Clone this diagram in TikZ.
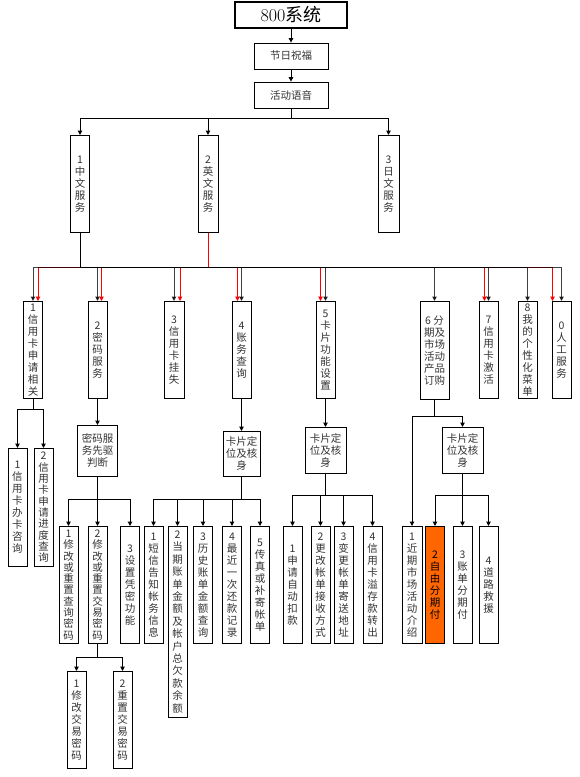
\documentclass[tikz,border=0pt]{standalone}
\usepackage{fontspec}
\newfontfamily\cjk{Noto Sans CJK SC}
\usetikzlibrary{arrows.meta}
\definecolor{fenqi}{RGB}{255,102,0}
% one character per line
\newcommand\vtext[1]{\vtextA#1\relax}
\def\vtextA#1{#1\vtextB}
\def\vtextB#1{\ifx#1\relax\else\\#1\expandafter\vtextB\fi}
\tikzset{
  box/.style={draw, line width=0.8pt, inner sep=0pt, align=center, text=black!80, font=\cjk\fontsize{10.5}{12}\selectfont},
  vbox/.style={box, anchor=north, minimum width=19pt},
  tight/.style={font=\cjk\fontsize{10.5}{11.3}\selectfont},
  loose/.style={font=\cjk\fontsize{10.5}{12.4}\selectfont},
  link/.style={line width=1pt, -{Triangle[length=4.5pt,width=4.5pt]}},
}
\begin{document}
\begin{tikzpicture}[x=1pt,y=1pt,yscale=-1,xscale=1]
    \useasboundingbox (0,0) rectangle (579,777);

    %Shape: Rectangle (top)
    \node[box, minimum width=112pt, minimum height=26pt, line width=1.2pt, text=black, font=\fontsize{18}{20}\selectfont] (title) at (291,15) {800{\cjk 系统}};
    \node[box, minimum width=74pt, minimum height=26pt] (jrzf) at (291,56) {节日祝福};
    \node[box, minimum width=74pt, minimum height=26pt] (hdyy) at (291,95) {活动语音};

    %Shape: Rectangle (languages)
    \node[vbox, minimum height=97pt] (zw) at (80,135) {\vtext{1中文服务}};
    \node[vbox, minimum height=97pt, minimum width=20pt] (yw) at (208,135) {\vtext{2英文服务}};
    \node[vbox, minimum height=97pt, minimum width=21pt] (rw) at (388.5,135) {\vtext{3日文服务}};

    %Shape: Rectangle (menu)
    \node[vbox, minimum height=97pt] (m1) at (33,301) {\vtext{1信用卡申请相关}};
    \node[vbox, minimum height=97pt] (m2) at (97.5,301) {\vtext{2密码服务}};
    \node[vbox, minimum height=97pt, minimum width=20pt] (m3) at (174,301) {\vtext{3信用卡挂失}};
    \node[vbox, minimum height=97pt] (m4) at (241.5,301) {\vtext{4账务查询}};
    \node[vbox, minimum height=97pt] (m5) at (325.5,301) {\vtext{5卡片功能设置}};
    \node[vbox, minimum height=98pt, minimum width=29pt] (m6) at (434.5,301) {6 分\\期及\\市场\\活动\\产品\\订购};
    \node[vbox, minimum height=97pt] (m7) at (488.5,301) {\vtext{7信用卡激活}};
    \node[vbox, minimum height=97pt] (m8) at (527.5,301) {\vtext{8我的个性化菜单}};
    \node[vbox, minimum height=97pt] (m0) at (561.5,301) {\vtext{0人工服务}};

    %Shape: Rectangle (sub menus)
    \node[vbox, minimum height=118pt] (a1) at (17.5,448) {\vtext{1信用卡办卡咨询}};
    \node[vbox, minimum height=118pt, tight] (a2) at (43.5,448) {\vtext{2信用卡申请进度查询}};
    \node[box, anchor=north, minimum width=40pt, minimum height=51pt] (pd) at (97.5,425) {密码服\\务先驱\\判断};
    \node[box, anchor=north, minimum width=37pt, minimum height=45pt] (kp4) at (241.5,431) {卡片定\\位及核\\身};
    \node[box, anchor=north, minimum width=41pt, minimum height=46pt] (kp5) at (325.5,427) {卡片定\\位及核\\身};
    \node[box, anchor=north, minimum width=41pt, minimum height=46pt] (kp6) at (462.5,427) {卡片定\\位及核\\身};

    %Shape: Rectangle (leaves)
    \node[vbox, minimum height=117pt, tight] (p1) at (68.5,526) {\vtext{1修改或重置查询密码}};
    \node[vbox, minimum height=117pt, tight] (p2) at (97.5,526) {\vtext{2修改或重置交易密码}};
    \node[vbox, minimum height=117pt] (p3) at (130,526) {\vtext{3设置凭密功能}};
    \node[vbox, minimum height=117pt] (q1) at (153.5,526) {\vtext{1短信告知帐务信息}};
    \node[vbox, minimum height=191pt, loose] (q2) at (177.5,526) {\vtext{2当期账单金额及帐户总欠款余额}};
    \node[vbox, minimum height=117pt] (q3) at (203,526) {\vtext{3历史账单金额查询}};
    \node[vbox, minimum height=117pt] (q4) at (232,526) {\vtext{4最近一次还款记录}};
    \node[vbox, minimum height=117pt] (q5) at (260,526) {\vtext{5传真或补寄帐单}};
    \node[vbox, minimum height=117pt] (r1) at (292.5,526) {\vtext{1申请自动扣款}};
    \node[vbox, minimum height=117pt] (r2) at (320.5,526) {\vtext{2更改帐单接收方式}};
    \node[vbox, minimum height=117pt] (r3) at (343.5,526) {\vtext{3变更帐单寄送地址}};
    \node[vbox, minimum height=117pt] (r4) at (372.5,526) {\vtext{4信用卡溢存款转出}};
    \node[vbox, minimum height=117pt, minimum width=20pt] (b1) at (412,526) {\vtext{1近期市场活动介绍}};
    \node[vbox, minimum height=117pt, fill=fenqi, text=black] (s2) at (435,526) {\vtext{2自由分期付}};
    \node[vbox, minimum height=117pt] (s3) at (462.5,526) {\vtext{3账单分期付}};
    \node[vbox, minimum height=117pt] (s4) at (488.5,526) {\vtext{4道路救援}};
    \node[vbox, minimum height=97pt] (t1) at (76.5,671) {\vtext{1修改交易密码}};
    \node[vbox, minimum height=97pt] (t2) at (122.5,671) {\vtext{2重置交易密码}};

    %Straight Lines
    \draw[link] (title) -- (jrzf);
    \draw[link] (jrzf) -- (hdyy);
    \foreach \n in {zw,yw,rw}
      \draw[link] (hdyy.south) -- ++(0,10) -| (\n.north);
    \foreach \n/\d in {m1/5,m2/4,m3/6,m4/-4,m5/-5,m7/-4,m0/-9}
      \draw[link, red] (yw.south) -- ++(0,35) -| ([xshift=\d pt]\n.north);
    \foreach \n in {m1,m2,m3,m4,m5,m6,m7,m8,m0}
      \draw[link, draw opacity=.75, fill opacity=.75] (zw.south) -- ++(0,35) -| (\n.north);
    \foreach \n in {a1,a2}
      \draw[link] (m1.south) -- ++(0,11) -| (\n.north);
    \draw[link] (m2) -- (pd);
    \foreach \n in {p1,p2,p3}
      \draw[link] (pd.south) -- ++(0,23) -| (\n.north);
    \draw[link] (m4) -- (kp4);
    \foreach \n in {q1,q2,q3,q4,q5}
      \draw[link] (kp4.south) -- ++(0,23) -| (\n.north);
    \draw[link] (m5) -- (kp5);
    \foreach \n in {r1,r2,r3,r4}
      \draw[link] (kp5.south) -- ++(0,22) -| (\n.north);
    \foreach \n in {b1,kp6}
      \draw[link] (m6.south) -- ++(0,17) -| (\n.north);
    \foreach \n in {s2,s3,s4}
      \draw[link] (kp6.south) -- ++(0,22) -| (\n.north);
    \foreach \n in {t1,t2}
      \draw[link] (p2.south) -- ++(0,14) -| (\n.north);
\end{tikzpicture}
\end{document}
